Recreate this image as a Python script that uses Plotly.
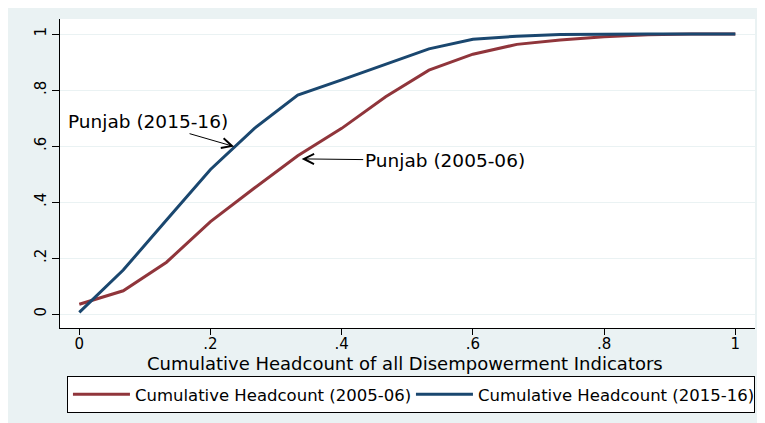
import plotly.graph_objects as go

# Data
x_vals = [0, 0.067, 0.133, 0.2, 0.267, 0.333, 0.4, 0.467, 0.533, 0.6,
          0.667, 0.733, 0.8, 0.867, 0.933, 1.0]
headcount_2005 = [0.035, 0.083, 0.185, 0.33, 0.45, 0.565, 0.663, 0.776, 0.871,
                  0.928, 0.963, 0.979, 0.99, 0.997, 1.0, 1.0]
headcount_2015 = [0.006, 0.157, 0.336, 0.516, 0.663, 0.782, 0.836, 0.893, 0.947,
                  0.981, 0.992, 0.998, 1.0, 1.0, 1.0, 1.0]
series_names = ["Cumulative Headcount (2005-06)", "Cumulative Headcount (2015-16)"]
tick_vals = [0, 0.2, 0.4, 0.6, 0.8, 1.0]
tick_text = ["0", ".2", ".4", ".6", ".8", "1"]
x_title = "Cumulative Headcount of all Disempowerment Indicators"

RED = "#90353B"
NAVY = "#1A476F"
BG = "#EAF2F3"
FONT = "DejaVu Sans"

fig = go.Figure()
fig.add_trace(go.Scatter(x=x_vals, y=headcount_2005, mode="lines",
                         name=series_names[0], line=dict(color=RED, width=3)))
fig.add_trace(go.Scatter(x=x_vals, y=headcount_2015, mode="lines",
                         name=series_names[1], line=dict(color=NAVY, width=3)))

# Annotations with arrows
fig.add_annotation(x=0.236, y=0.598, ax=0.105, ay=0.687, axref="x", ayref="y",
                   xref="x", yref="y", text="Punjab (2015-16)", showarrow=True,
                   arrowhead=5, arrowsize=2, arrowwidth=1, arrowcolor="black",
                   font=dict(family=FONT, size=18.5, color="black"))
fig.add_annotation(x=0.339, y=0.554, ax=0.557, ay=0.548, axref="x", ayref="y",
                   xref="x", yref="y", text="Punjab (2005-06)", showarrow=True,
                   arrowhead=5, arrowsize=2, arrowwidth=1, arrowcolor="black",
                   font=dict(family=FONT, size=18.5, color="black"))

# x-axis title placed as paper annotation for exact placement
fig.add_annotation(x=0.496, y=-0.1165, xref="paper", yref="paper",
                   xanchor="center", yanchor="middle", showarrow=False,
                   text=x_title, font=dict(family=FONT, size=18, color="black"))

fig.update_layout(
    width=765, height=423,
    margin=dict(l=52, r=18, t=11, b=103, autoexpand=False),
    paper_bgcolor=BG, plot_bgcolor="white",
    font=dict(family=FONT, color="black"),
    showlegend=True,
    legend=dict(orientation="h", x=0.01, y=-0.1553, xanchor="left", yanchor="top",
                bgcolor="white", bordercolor="black", borderwidth=1,
                font=dict(family=FONT, size=16.5, color="black"),
                itemwidth=57, entrywidth=271, entrywidthmode="pixels"),
)
fig.update_xaxes(range=[-0.0294, 1.030], tickvals=tick_vals, ticktext=tick_text,
                 showgrid=False, zeroline=False, showline=True, linecolor="black",
                 linewidth=1, ticks="outside", ticklen=6, tickcolor="black",
                 tickfont=dict(family=FONT, size=15), automargin=False,
                 ticklabelstandoff=-4)
fig.update_yaxes(range=[-0.05, 1.0536], tickvals=tick_vals, ticktext=tick_text,
                 showgrid=True, gridcolor=BG, gridwidth=1, zeroline=False,
                 showline=True, linecolor="black", linewidth=1, automargin=False,
                 ticks="outside", ticklen=7, tickcolor="black", tickangle=-90,
                 tickfont=dict(family=FONT, size=15))

fig.write_html("out.html")
